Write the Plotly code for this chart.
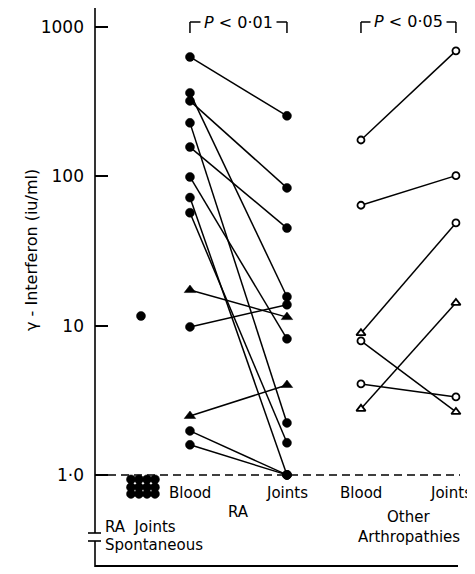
import plotly.graph_objects as go

# ---------------- data ----------------
# RA: paired blood / joint values (iu/ml)
ra_blood = [630, 362, 320, 228, 157, 99, 72, 57, 17.3, 9.8, 2.48, 1.97, 1.59]
ra_joints = [254, 15.6, 83.6, 2.23, 45, 8.15, 1.0, 1.64, 11.4, 13.8, 4.0, 1.0, 1.0]
ra_blood_sym = ["circle"] * 8 + ["triangle-up", "circle", "triangle-up", "circle", "circle"]
ra_joint_sym = ["circle"] * 8 + ["triangle-up", "circle", "triangle-up", "circle", "circle"]

# Other arthropathies: paired blood / joint values
oa_blood = [175, 64, 8.9, 7.9, 4.07, 2.77]
oa_joints = [692, 101, 48.7, 2.64, 3.33, 14.2]
oa_blood_sym = ["circle", "circle", "triangle-up", "circle", "circle", "triangle-up"]
oa_joint_sym = ["circle", "circle", "circle", "triangle-up", "circle", "triangle-up"]

# RA joints, spontaneous production (most undetectable, drawn below 1.0)
spont_values = [0.933] * 4 + [0.826] * 4 + [0.746] * 4 + [11.6]
spont_jitter = [-0.103, -0.021, 0.062, 0.144] * 3 + [0.0]

tick_vals = [1, 10, 100, 1000]
tick_text = ["1·0", "10", "100", "1000"]

group_labels = ["Blood", "Joints", "Blood", "Joints"]
threshold = 1.0

# ---------------- layout helpers ----------------
# page has an 8px body margin, so the figure starts at page (8, 8)
OFF = 8
W, H = 475 - OFF, 574 - OFF
PLOT_X0, PLOT_X1 = 95, 470      # page pixels of plot area
PLOT_Y0, PLOT_Y1 = 8, 567
L, R = PLOT_X0 - OFF, W - (PLOT_X1 - OFF)
T, B = PLOT_Y0 - OFF, H - (PLOT_Y1 - OFF)

def px(x):
    return (x - PLOT_X0) / (PLOT_X1 - PLOT_X0)
def py(y):
    return (PLOT_Y1 - y) / (PLOT_Y1 - PLOT_Y0)

X_SPONT, X_RA_B, X_RA_J, X_OA_B, X_OA_J = 0.495, 1.0, 2.0, 2.763, 3.742
X_RANGE = [0.021, 3.887]
DEC = 149.3
Y_TOP = 3 + (27 - PLOT_Y0) / DEC
Y_RANGE = [Y_TOP - (PLOT_Y1 - PLOT_Y0) / DEC, Y_TOP]

FONT = "DejaVu Sans"
BLACK = "#000000"

fig = go.Figure()

# threshold dashed line
fig.add_trace(go.Scatter(x=[X_RANGE[0], 3.784], y=[threshold, threshold], mode="lines",
                         line=dict(color=BLACK, width=1.5, dash="8px,5px"), hoverinfo="skip"))

def add_pairs(bx, jx, bvals, jvals, bsym, jsym, msize_c, msize_t, open_):
    lx, ly = [], []
    for b, j in zip(bvals, jvals):
        lx += [bx, jx, None]
        ly += [b, j, None]
    fig.add_trace(go.Scatter(x=lx, y=ly, mode="lines", line=dict(color=BLACK, width=1.5),
                             hoverinfo="skip"))
    xs = [bx] * len(bvals) + [jx] * len(jvals)
    ys = list(bvals) + list(jvals)
    syms = list(bsym) + list(jsym)
    sizes = [msize_t if "triangle" in s else msize_c for s in syms]
    fill = "white" if open_ else BLACK
    lwid = 1.8 if open_ else 0.5
    fig.add_trace(go.Scatter(x=xs, y=ys, mode="markers",
                             marker=dict(symbol=syms, size=sizes, color=fill, opacity=1,
                                         line=dict(color=BLACK, width=lwid)),
                             hoverinfo="skip"))

add_pairs(X_RA_B, X_RA_J, ra_blood, ra_joints, ra_blood_sym, ra_joint_sym, 9, 10, False)
add_pairs(X_OA_B, X_OA_J, oa_blood, oa_joints, oa_blood_sym, oa_joint_sym, 7, 8, True)

# spontaneous
fig.add_trace(go.Scatter(x=[X_SPONT + j for j in spont_jitter], y=spont_values, mode="markers",
                         marker=dict(symbol="circle", size=9, color=BLACK, opacity=1,
                                     line=dict(color=BLACK, width=0.5)),
                         hoverinfo="skip"))

shapes = []
lw = 1.6
# y axis with break
shapes.append(dict(type="line", xref="paper", yref="paper", x0=0, x1=0, y0=py(5), y1=py(533),
                   line=dict(color=BLACK, width=lw)))
shapes.append(dict(type="line", xref="paper", yref="paper", x0=0, x1=0, y0=py(541), y1=py(567),
                   line=dict(color=BLACK, width=lw)))
for yy in (533, 541):
    shapes.append(dict(type="line", xref="paper", yref="paper", x0=px(88), x1=px(101),
                       y0=py(yy), y1=py(yy), line=dict(color=BLACK, width=lw)))
# bottom line
shapes.append(dict(type="line", xref="paper", yref="paper", x0=0, x1=px(458), y0=py(566),
                   y1=py(566), line=dict(color=BLACK, width=2)))
# p-value brackets
for xa, xb in ((X_RA_B, X_RA_J), (X_OA_B, X_OA_J)):
    shapes.append(dict(type="line", xref="x", yref="paper", x0=xa, x1=xb, y0=py(22), y1=py(22),
                       line=dict(color=BLACK, width=1.5)))
    for xv in (xa, xb):
        shapes.append(dict(type="line", xref="x", yref="paper", x0=xv, x1=xv, y0=py(22), y1=py(33),
                           line=dict(color=BLACK, width=1.5)))

annotations = []
def ann(text, x, y, xref="x", size=15, xanchor="center", **kw):
    annotations.append(dict(text=text, x=x, y=y, xref=xref, yref="paper", showarrow=False,
                            xanchor=xanchor, yanchor="middle",
                            font=dict(family=FONT, size=size, color=BLACK), **kw))

ann("<i>P</i> < 0·01", (X_RA_B + X_RA_J) / 2, py(22), size=16, bgcolor="white", borderpad=3)
ann("<i>P</i> < 0·05", (X_OA_B + X_OA_J) / 2, py(21), size=16, bgcolor="white", borderpad=3)

for i, (lab, xv) in enumerate(zip(group_labels, (X_RA_B, X_RA_J, X_OA_B, X_OA_J))):
    if i == 3:
        # last label sits against the right edge of the figure
        ann(lab, px(474), py(493), xref="paper", size=15, xanchor="right")
    else:
        ann(lab, xv, py(493), size=15)
ann("RA", (X_RA_B + X_RA_J) / 2, py(512), size=15)
ann("Other", 3.255, py(517), size=15)
ann("Arthropathies", 3.255, py(537), size=15)
ann("RA  Joints", px(103), py(527), xref="paper", size=15, xanchor="left")
ann("Spontaneous", px(103), py(545), xref="paper", size=15, xanchor="left")
ann("γ - Interferon (iu/ml)", px(32), py(250), xref="paper", size=16, textangle=-90)

fig.update_layout(
    width=W, height=H, margin=dict(l=L, r=R, t=T, b=B, pad=0),
    paper_bgcolor="white", plot_bgcolor="white", showlegend=False,
    shapes=shapes, annotations=annotations,
    xaxis=dict(range=X_RANGE, visible=False, showgrid=False, zeroline=False),
    yaxis=dict(type="log", range=Y_RANGE, tickvals=tick_vals, ticktext=tick_text,
               ticks="inside", ticklen=13, tickwidth=1.6, tickcolor=BLACK,
               showline=False, showgrid=False, zeroline=False, ticklabelstandoff=10,
               tickfont=dict(family=FONT, size=17, color=BLACK)),
)

fig.write_html("out.html")
